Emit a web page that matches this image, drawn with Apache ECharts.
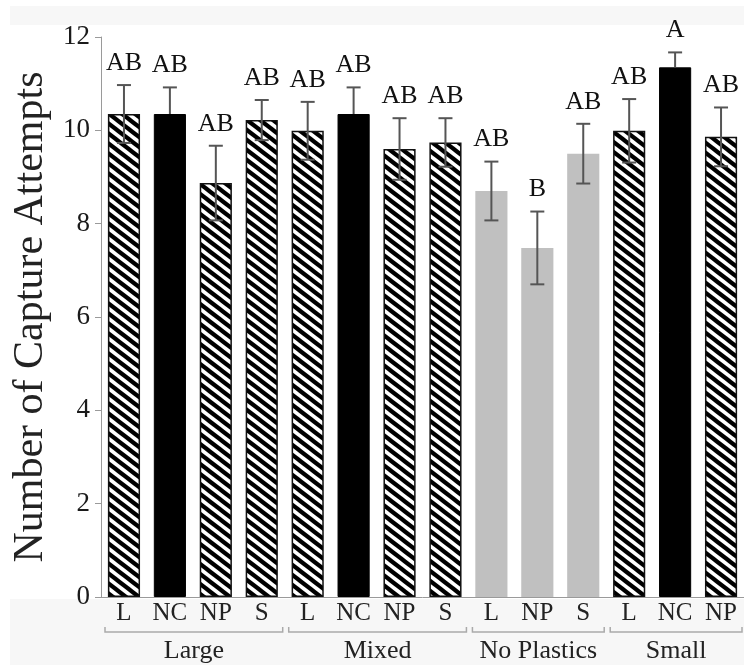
<!DOCTYPE html>
<html>
<head>
<meta charset="utf-8">
<script src="https://cdn.jsdelivr.net/npm/echarts@6/dist/echarts.min.js"></script>
<style>html,body{margin:0;padding:0;background:#fff}#c{width:744px;height:665px}</style>
</head>
<body>
<div id="c"></div>
<script>
// ---- data ----
var groups = ['Large', 'Mixed', 'No Plastics', 'Small'];
var groupSizes = [4, 4, 3, 3];
var barLabels = ['L', 'NC', 'NP', 'S', 'L', 'NC', 'NP', 'S', 'L', 'NP', 'S', 'L', 'NC', 'NP'];
var means = [10.35, 10.35, 8.87, 10.22, 9.99, 10.35, 9.60, 9.74, 8.70, 7.48, 9.50, 9.99, 11.35, 9.86];
var errs = [0.62, 0.57, 0.80, 0.43, 0.62, 0.57, 0.66, 0.52, 0.63, 0.78, 0.64, 0.68, 0.32, 0.63];
var letters = ['AB', 'AB', 'AB', 'AB', 'AB', 'AB', 'AB', 'AB', 'AB', 'B', 'AB', 'AB', 'A', 'AB'];
var fills = ['hatch', 'black', 'hatch', 'hatch', 'hatch', 'black', 'hatch', 'hatch', 'gray', 'gray', 'gray', 'hatch', 'black', 'hatch'];
var yTicks = [0, 2, 4, 6, 8, 10, 12];

// ---- build ----
var FONT = "'Liberation Serif', 'Times New Roman', serif";
var catIds = barLabels.map(function (l, i) { return i + '|' + l; });

var TW = 13, TH = 10;
var tile = document.createElement('canvas');
tile.width = TW; tile.height = TH;
var tc = tile.getContext('2d');
tc.fillStyle = '#fff'; tc.fillRect(0, 0, TW, TH);
tc.strokeStyle = '#000'; tc.lineWidth = 4.2;
for (var k = -2; k <= 2; k++) {
  tc.beginPath(); tc.moveTo(-TW, -TH + k * TH); tc.lineTo(2 * TW, 2 * TH + k * TH); tc.stroke();
}
var hatch = { image: tile, repeat: 'repeat' };

var barData = means.map(function (m, i) {
  var f = fills[i];
  var st;
  if (f === 'hatch') st = { color: hatch, borderColor: '#111', borderWidth: 1.5 };
  else if (f === 'black') st = { color: '#000', borderColor: '#000', borderWidth: 1 };
  else st = { color: '#c0c0c0' };
  return { value: m, itemStyle: st };
});

var errData = means.map(function (m, i) { return [i, m - errs[i], m + errs[i], m]; });

var groupData = [];
var s = 0;
groupSizes.forEach(function (n) { groupData.push([s, 0, s + n - 1]); s += n; });

var chart = echarts.init(document.getElementById('c'), null, { renderer: 'canvas' });
chart.setOption({
  animation: false,
  backgroundColor: '#ffffff',
  graphic: [
    { type: 'rect', z: -10, shape: { x: 10, y: 6, width: 734, height: 659 }, style: { fill: '#f7f7f7' }, silent: true },
    { type: 'rect', z: -9, shape: { x: 10, y: 25, width: 734, height: 574 }, style: { fill: '#ffffff' }, silent: true }
  ],
  grid: { left: 101, right: 0, top: 37, bottom: 68, containLabel: false },
  xAxis: {
    type: 'category',
    data: catIds,
    axisLine: { lineStyle: { color: '#9a9a9a', width: 1 } },
    axisTick: { show: false },
    axisLabel: {
      margin: 4, fontFamily: FONT, fontSize: 25, color: '#222', interval: 0,
      formatter: function (v) { return v.split('|')[1]; }
    },
    splitLine: { show: false }
  },
  yAxis: {
    type: 'value', min: yTicks[0], max: yTicks[yTicks.length - 1], interval: 2,
    name: 'Number of Capture Attempts', nameLocation: 'middle', nameGap: 47,
    nameTextStyle: { fontFamily: FONT, fontSize: 42, color: '#222' },
    axisLine: { show: true, lineStyle: { color: '#9a9a9a', width: 1 } },
    axisTick: { show: true, length: 6, lineStyle: { color: '#9a9a9a' } },
    axisLabel: { margin: 11, fontFamily: FONT, fontSize: 27, color: '#1a1a1a' },
    splitLine: { show: false }
  },
  series: [
    {
      type: 'bar', data: barData, barWidth: '70%', z: 2
    },
    {
      type: 'custom', z: 5, clip: false, silent: true,
      data: errData,
      renderItem: function (params, api) {
        var idx = params.dataIndex;
        var x = api.value(0);
        var lo = api.coord([x, api.value(1)]);
        var hi = api.coord([x, api.value(2)]);
        var top = api.coord([x, api.value(3)]);
        var cw = 7;
        var ls = { stroke: '#555', lineWidth: 2 };
        var kids = [];
        if (fills[idx] === 'black') {
          kids.push({ type: 'line', shape: { x1: top[0], y1: top[1], x2: hi[0], y2: hi[1] }, style: ls });
        } else {
          kids.push({ type: 'line', shape: { x1: lo[0], y1: lo[1], x2: hi[0], y2: hi[1] }, style: ls });
          kids.push({ type: 'line', shape: { x1: lo[0] - cw, y1: lo[1], x2: lo[0] + cw, y2: lo[1] }, style: ls });
        }
        kids.push({ type: 'line', shape: { x1: hi[0] - cw, y1: hi[1], x2: hi[0] + cw, y2: hi[1] }, style: ls });
        kids.push({ type: 'text', style: { x: hi[0], y: hi[1] - 9, text: letters[idx], fontFamily: FONT, fontSize: 26, fill: '#111', textAlign: 'center', textVerticalAlign: 'bottom' } });
        return { type: 'group', children: kids };
      }
    },
    {
      type: 'custom', z: 5, clip: false, silent: true,
      data: groupData,
      renderItem: function (params, api) {
        var a = api.coord([api.value(0), 0]);
        var b = api.coord([api.value(2), 0]);
        var bw = api.size([1, 0])[0];
        var x1 = a[0] - bw / 2 + 4, x2 = b[0] + bw / 2 - 2;
        var y = a[1] + 35;
        return {
          type: 'group',
          children: [
            { type: 'polyline', shape: { points: [[x1, y - 5], [x1, y], [x2, y], [x2, y - 5]] }, style: { stroke: '#aaa', lineWidth: 1.5, fill: null } },
            { type: 'text', style: { x: (x1 + x2) / 2, y: a[1] + 54, text: groups[params.dataIndex], fontFamily: FONT, fontSize: 26, fill: '#222', textAlign: 'center', textVerticalAlign: 'middle' } }
          ]
        };
      }
    }
  ]
});
</script>
</body>
</html>
